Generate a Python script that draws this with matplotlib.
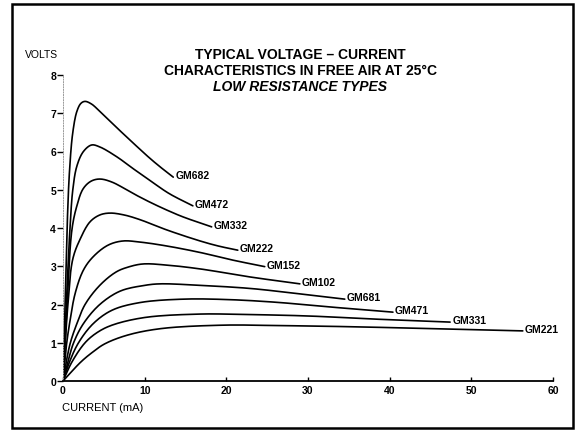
import matplotlib
matplotlib.use("Agg")
import matplotlib.pyplot as plt
from matplotlib.patches import Rectangle
import numpy as np

plt.rcParams['font.family'] = ['Liberation Sans', 'DejaVu Sans']

# curve data: current (mA), voltage (V)
gm682_i = [0, 0.25, 0.5, 0.8, 1.2, 1.7, 2.2, 2.7, 3.5, 4.5, 6.6, 8.6, 10.6, 12.0, 13.5]
gm682_v = [0, 2.0, 4.0, 5.5, 6.5, 7.05, 7.26, 7.31, 7.24, 7.05, 6.62, 6.22, 5.83, 5.58, 5.33]
gm472_i = [0, 0.4, 0.85, 1.2, 1.7, 2.5, 3.5, 4.5, 6.6, 8.6, 10.6, 13.0, 15.9]
gm472_v = [0, 2.0, 3.97, 5.0, 5.62, 6.0, 6.17, 6.12, 5.86, 5.55, 5.25, 4.9, 4.58]
gm332_i = [0, 0.5, 1.1, 1.7, 2.45, 3.4, 4.5, 6.0, 8.6, 10.6, 12.7, 14.7, 18.2]
gm332_v = [0, 2.0, 3.97, 4.58, 5.02, 5.22, 5.28, 5.2, 4.9, 4.68, 4.47, 4.29, 4.03]
gm222_i = [0, 0.6, 1.2, 2.1, 3.3, 4.5, 5.75, 7.5, 9.4, 12.7, 16.8, 19.0, 21.4]
gm222_v = [0, 2.0, 3.19, 3.71, 4.16, 4.34, 4.39, 4.34, 4.22, 3.95, 3.66, 3.53, 3.42]
gm152_i = [0, 0.4, 0.8, 1.5, 2.5, 3.7, 5.5, 7.3, 9.5, 12.7, 16.8, 20.8, 24.7]
gm152_v = [0, 0.9, 1.5, 2.3, 2.9, 3.25, 3.55, 3.66, 3.63, 3.53, 3.36, 3.16, 2.99]
gm102_i = [0, 0.4, 0.9, 1.7, 2.7, 4.5, 6.5, 8.0, 9.8, 12.7, 16.8, 22.9, 29.0]
gm102_v = [0, 0.5, 1.0, 1.5, 2.0, 2.5, 2.85, 2.98, 3.06, 3.03, 2.93, 2.72, 2.54]
gm681_i = [0, 0.6, 1.3, 2.5, 4.5, 7.0, 10.0, 11.9, 16.8, 22.9, 28.5, 34.5]
gm681_v = [0, 0.5, 1.0, 1.5, 2.0, 2.35, 2.5, 2.54, 2.5, 2.42, 2.29, 2.14]
gm471_i = [0, 0.8, 1.9, 3.7, 6.0, 9.4, 14.7, 20.0, 26.0, 33.0, 40.4]
gm471_v = [0, 0.5, 1.0, 1.5, 1.85, 2.05, 2.14, 2.13, 2.06, 1.93, 1.8]
gm331_i = [0, 1.1, 2.7, 4.2, 6.0, 10.0, 16.8, 22.0, 30.0, 38.0, 47.4]
gm331_v = [0, 0.5, 1.0, 1.27, 1.46, 1.66, 1.75, 1.74, 1.7, 1.62, 1.54]
gm221_i = [0, 2.2, 3.6, 5.1, 7.9, 12.0, 19.6, 26.0, 35.0, 45.0, 56.3]
gm221_v = [0, 0.5, 0.75, 0.97, 1.2, 1.37, 1.46, 1.45, 1.42, 1.37, 1.31]

curve_names = ['GM682', 'GM472', 'GM332', 'GM222', 'GM152',
               'GM102', 'GM681', 'GM471', 'GM331', 'GM221']
curve_i = [gm682_i, gm472_i, gm332_i, gm222_i, gm152_i,
           gm102_i, gm681_i, gm471_i, gm331_i, gm221_i]
curve_v = [gm682_v, gm472_v, gm332_v, gm222_v, gm152_v,
           gm102_v, gm681_v, gm471_v, gm331_v, gm221_v]

x_ticks = [0, 10, 20, 30, 40, 50, 60]
y_ticks = [0, 1, 2, 3, 4, 5, 6, 7, 8]


def smooth(xs, ys, n=16):
    """Centripetal Catmull-Rom through the points, done in a scaled space."""
    p = np.column_stack([np.asarray(xs) / 60 * 490, np.asarray(ys) / 8 * 306])
    p = np.vstack([2 * p[0] - p[1], p, 2 * p[-1] - p[-2]])
    out = [p[1]]
    for k in range(1, len(p) - 2):
        p0, p1, p2, p3 = p[k - 1], p[k], p[k + 1], p[k + 2]
        t0 = 0.0
        t1 = t0 + np.linalg.norm(p1 - p0) ** 0.5
        t2 = t1 + np.linalg.norm(p2 - p1) ** 0.5
        t3 = t2 + np.linalg.norm(p3 - p2) ** 0.5
        for t in np.linspace(t1, t2, n)[1:]:
            a1 = (t1 - t) / (t1 - t0) * p0 + (t - t0) / (t1 - t0) * p1
            a2 = (t2 - t) / (t2 - t1) * p1 + (t - t1) / (t2 - t1) * p2
            a3 = (t3 - t) / (t3 - t2) * p2 + (t - t2) / (t3 - t2) * p3
            b1 = (t2 - t) / (t2 - t0) * a1 + (t - t0) / (t2 - t0) * a2
            b2 = (t3 - t) / (t3 - t1) * a2 + (t - t1) / (t3 - t1) * a3
            out.append((t2 - t) / (t2 - t1) * b1 + (t - t1) / (t2 - t1) * b2)
    out = np.array(out)
    return out[:, 0] / 490 * 60, out[:, 1] / 306 * 8


fig = plt.figure(figsize=(5.8, 4.31), dpi=100)
ax = fig.add_axes([63 / 580, 49 / 431, 490 / 580, 306 / 431])

for name, xi, vi in zip(curve_names, curve_i, curve_v):
    sx, sy = smooth(xi, vi)
    ax.plot(sx, sy, color='black', lw=1.2, solid_capstyle='round')
    ax.annotate(name, (xi[-1], vi[-1]), xytext=(1.5, 1.5), textcoords='offset points',
                ha='left', va='center', fontsize=7.5, fontweight='bold')

ax.set_xlim(0, 60)
ax.set_ylim(0, 8)
ax.set_xticks(x_ticks)
ax.set_yticks(y_ticks)
ax.set_xticklabels([str(t) for t in x_ticks], fontsize=7.5, fontweight='bold')
ax.set_yticklabels([str(t) for t in y_ticks], fontsize=7.5, fontweight='bold')
ax.tick_params(axis='x', direction='in', length=3, width=1, pad=3)
ax.tick_params(axis='y', direction='out', length=4, width=1, pad=1)
for s in ['top', 'right']:
    ax.spines[s].set_visible(False)
ax.spines['bottom'].set_linewidth(1.3)
ax.spines['left'].set_color('0.6')
ax.spines['left'].set_linestyle(':')
ax.spines['left'].set_linewidth(0.7)

fig.text(25 / 580, 1 - 55 / 431, 'VOLTS', fontsize=7.5, va='center', ha='left')
fig.text(62 / 580, 1 - 408 / 431, 'CURRENT (mA)', fontsize=8, va='center', ha='left')

fig.text(300 / 580, 1 - 55 / 431, 'TYPICAL VOLTAGE \u2013 CURRENT',
         fontsize=10, fontweight='bold', ha='center', va='center')
fig.text(300 / 580, 1 - 71 / 431, 'CHARACTERISTICS IN FREE AIR AT 25\u00b0C',
         fontsize=10, fontweight='bold', ha='center', va='center')
fig.text(300 / 580, 1 - 87 / 431, 'LOW RESISTANCE TYPES',
         fontsize=10, fontweight='bold', fontstyle='italic', ha='center', va='center')

fig.patches.append(Rectangle((12 / 580, 2 / 431), 561 / 580, 424 / 431,
                             transform=fig.transFigure, fill=False,
                             edgecolor='black', lw=1.8))

fig.savefig('out.png', dpi=100)
